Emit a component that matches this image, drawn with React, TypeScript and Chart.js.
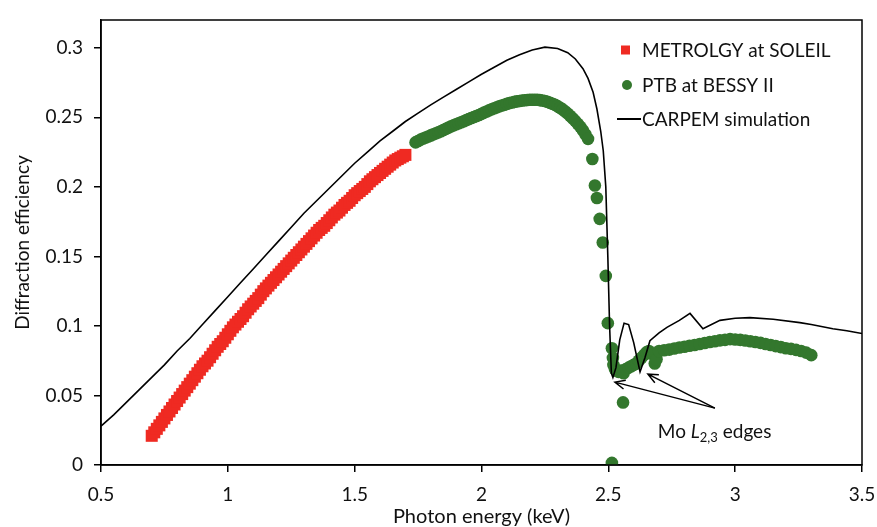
import React, { useEffect, useRef } from 'react';
import { Chart, registerables } from 'chart.js';

Chart.register(...registerables);

// ---------- data ----------
const metrologyX = [0.70, 0.71, 0.72, 0.73, 0.74, 0.75, 0.76, 0.77, 0.78, 0.79, 0.80, 0.81, 0.82, 0.83, 0.84, 0.85, 0.86, 0.87, 0.88, 0.89, 0.90, 0.91, 0.92, 0.93, 0.94, 0.95, 0.96, 0.97, 0.98, 0.99, 1.00, 1.01, 1.02, 1.03, 1.04, 1.05, 1.06, 1.07, 1.08, 1.09, 1.10, 1.11, 1.12, 1.13, 1.14, 1.15, 1.16, 1.17, 1.18, 1.19, 1.20, 1.21, 1.22, 1.23, 1.24, 1.25, 1.26, 1.27, 1.28, 1.29, 1.30, 1.31, 1.32, 1.33, 1.34, 1.35, 1.36, 1.37, 1.38, 1.39, 1.40, 1.41, 1.42, 1.43, 1.44, 1.45, 1.46, 1.47, 1.48, 1.49, 1.50, 1.51, 1.52, 1.53, 1.54, 1.55, 1.56, 1.57, 1.58, 1.59, 1.60, 1.61, 1.62, 1.63, 1.64, 1.65, 1.66, 1.67, 1.68, 1.69, 1.70];
const metrologyY = [0.021, 0.0235, 0.026, 0.0285, 0.031, 0.0335, 0.036, 0.0385, 0.041, 0.0435, 0.046, 0.0485, 0.051, 0.0535, 0.056, 0.0585, 0.061, 0.0635, 0.066, 0.0685, 0.071, 0.073, 0.075, 0.0775, 0.080, 0.0825, 0.085, 0.087, 0.089, 0.0915, 0.094, 0.0965, 0.099, 0.101, 0.103, 0.105, 0.107, 0.1095, 0.112, 0.114, 0.116, 0.118, 0.120, 0.1225, 0.125, 0.127, 0.129, 0.131, 0.133, 0.135, 0.137, 0.139, 0.141, 0.143, 0.145, 0.147, 0.149, 0.151, 0.153, 0.155, 0.157, 0.159, 0.161, 0.163, 0.165, 0.167, 0.169, 0.1705, 0.172, 0.174, 0.176, 0.178, 0.180, 0.1815, 0.183, 0.185, 0.187, 0.1885, 0.190, 0.192, 0.194, 0.1955, 0.197, 0.1985, 0.200, 0.202, 0.204, 0.2055, 0.207, 0.2085, 0.210, 0.2115, 0.213, 0.2145, 0.216, 0.2175, 0.219, 0.220, 0.221, 0.222, 0.223];

const ptbX = [1.74, 1.75, 1.76, 1.77, 1.78, 1.79, 1.80, 1.81, 1.82, 1.83, 1.84, 1.85, 1.86, 1.87, 1.88, 1.89, 1.90, 1.91, 1.92, 1.93, 1.94, 1.95, 1.96, 1.97, 1.98, 1.99, 2.00, 2.01, 2.02, 2.03, 2.04, 2.05, 2.06, 2.07, 2.08, 2.09, 2.10, 2.11, 2.12, 2.13, 2.14, 2.15, 2.16, 2.17, 2.18, 2.19, 2.20, 2.21, 2.22, 2.23, 2.24, 2.25, 2.26, 2.27, 2.28, 2.29, 2.30, 2.31, 2.32, 2.33, 2.34, 2.35, 2.36, 2.37, 2.38, 2.39, 2.40, 2.41, 2.42,
  2.437, 2.447, 2.455, 2.466, 2.478, 2.490, 2.498, 2.514, 2.518, 2.526, 2.514, 2.558,
  2.52, 2.53, 2.54, 2.55, 2.56, 2.57, 2.58, 2.59, 2.60, 2.61, 2.62, 2.63, 2.64, 2.65, 2.66, 2.67, 2.683, 2.69,
  2.70, 2.72, 2.74, 2.76, 2.78, 2.80, 2.82, 2.84, 2.86, 2.88, 2.90, 2.92, 2.94, 2.96, 2.98, 3.00, 3.02, 3.04, 3.06, 3.08, 3.10, 3.12, 3.14, 3.16, 3.18, 3.20, 3.22, 3.24, 3.26, 3.28, 3.30];
const ptbY = [0.232, 0.233, 0.234, 0.2348, 0.2355, 0.2362, 0.237, 0.2378, 0.2385, 0.2392, 0.240, 0.2409, 0.2418, 0.2427, 0.2435, 0.2442, 0.245, 0.2457, 0.2465, 0.2472, 0.248, 0.2487, 0.2495, 0.2502, 0.251, 0.2517, 0.2525, 0.2534, 0.2542, 0.255, 0.2558, 0.2565, 0.2572, 0.2579, 0.2585, 0.2591, 0.2597, 0.2602, 0.2607, 0.2611, 0.2615, 0.2618, 0.2621, 0.2623, 0.2625, 0.2626, 0.2627, 0.2627, 0.2626, 0.2624, 0.2621, 0.2617, 0.2612, 0.2605, 0.2598, 0.259, 0.258, 0.2569, 0.2556, 0.2542, 0.2527, 0.251, 0.2492, 0.2473, 0.2452, 0.243, 0.2405, 0.2377, 0.2345,
  0.220, 0.201, 0.192, 0.177, 0.160, 0.136, 0.102, 0.084, 0.077, 0.069, 0.0015, 0.045,
  0.072, 0.068, 0.067, 0.068, 0.066, 0.069, 0.070, 0.071, 0.072, 0.073, 0.075, 0.077, 0.079, 0.081, 0.082, 0.080, 0.073, 0.076,
  0.082, 0.0825, 0.083, 0.0838, 0.0845, 0.085, 0.0857, 0.0863, 0.087, 0.0877, 0.0884, 0.089, 0.0896, 0.090, 0.0905, 0.0903, 0.090, 0.0895, 0.089, 0.0885, 0.0878, 0.087, 0.0863, 0.0855, 0.0848, 0.084, 0.0835, 0.0828, 0.082, 0.0808, 0.079];

const carpemX = [0.50, 0.55, 0.60, 0.65, 0.70, 0.75, 0.80, 0.85, 0.90, 0.95, 1.00, 1.05, 1.10, 1.15, 1.20, 1.25, 1.30, 1.35, 1.40, 1.45, 1.50, 1.55, 1.60, 1.65, 1.70, 1.75, 1.80, 1.85, 1.90, 1.95, 2.00, 2.05, 2.10, 2.15, 2.20, 2.25, 2.30, 2.34, 2.37, 2.40, 2.42, 2.44, 2.455, 2.47, 2.48, 2.49, 2.498, 2.505, 2.512, 2.518, 2.53, 2.545, 2.562, 2.58, 2.60, 2.613, 2.625, 2.644, 2.664, 2.70, 2.731, 2.78, 2.822, 2.873, 2.94, 3.00, 3.058, 3.15, 3.255, 3.30, 3.385, 3.44, 3.50];
const carpemY = [0.028, 0.036, 0.045, 0.054, 0.063, 0.072, 0.082, 0.091, 0.101, 0.111, 0.121, 0.131, 0.141, 0.151, 0.161, 0.171, 0.181, 0.190, 0.199, 0.208, 0.217, 0.225, 0.233, 0.240, 0.247, 0.253, 0.259, 0.2645, 0.270, 0.2755, 0.281, 0.286, 0.291, 0.295, 0.2985, 0.3005, 0.2995, 0.2965, 0.292, 0.285, 0.278, 0.268, 0.256, 0.240, 0.226, 0.200, 0.150, 0.100, 0.066, 0.063, 0.070, 0.090, 0.1020, 0.1010, 0.088, 0.077, 0.067, 0.077, 0.0894, 0.095, 0.099, 0.104, 0.109, 0.098, 0.104, 0.1055, 0.106, 0.1048, 0.1024, 0.101, 0.098, 0.0965, 0.0945];

const seriesNames = ['METROLGY at SOLEIL', 'PTB at BESSY II', 'CARPEM simulation'];
const xTitle = 'Photon energy (keV)';
const yTitle = 'Diffraction efficiency';

// annotation (data coordinates)
const noteParts = ['Mo ', 'L', '2,3', ' edges'];
const notePos = { x: 2.695, y: 0.0237 };
const arrowTail = { x: 2.92, y: 0.0409 };
const arrowHeads = [{ x: 2.526, y: 0.0596 }, { x: 2.656, y: 0.0653 }];

const RED = '#ef2a22';
const GREEN = '#33772d';
const FONT = 'Lato, "Open Sans", sans-serif';
const TEXT = '#111';

const framePlugin = {
  id: 'frame',
  afterDatasetsDraw(chart: any) {
    const { ctx, chartArea: a } = chart;
    ctx.save();
    ctx.strokeStyle = '#000';
    ctx.lineWidth = 1.5;
    ctx.strokeRect(a.left, a.top, a.right - a.left, a.bottom - a.top);
    ctx.restore();
  },
};

const annotationPlugin = {
  id: 'notes',
  afterDatasetsDraw(chart: any) {
    const { ctx, scales } = chart;
    const px = (p: any) => ({ x: scales.x.getPixelForValue(p.x), y: scales.y.getPixelForValue(p.y) });
    ctx.save();
    ctx.strokeStyle = '#000';
    ctx.lineWidth = 1.5;
    const t = px(arrowTail);
    arrowHeads.forEach((h0) => {
      const h = px(h0);
      ctx.beginPath();
      ctx.moveTo(t.x, t.y);
      ctx.lineTo(h.x, h.y);
      const ang = Math.atan2(t.y - h.y, t.x - h.x);
      const len = 11;
      const spread = 0.42;
      ctx.moveTo(h.x + len * Math.cos(ang + spread), h.y + len * Math.sin(ang + spread));
      ctx.lineTo(h.x, h.y);
      ctx.lineTo(h.x + len * Math.cos(ang - spread), h.y + len * Math.sin(ang - spread));
      ctx.stroke();
    });
    const p = px(notePos);
    ctx.fillStyle = TEXT;
    ctx.textBaseline = 'alphabetic';
    ctx.textAlign = 'left';
    let x = p.x;
    const base = p.y + 6;
    ctx.font = `19px ${FONT}`;
    ctx.fillText(noteParts[0], x, base);
    x += ctx.measureText(noteParts[0]).width;
    ctx.font = `italic 19px ${FONT}`;
    ctx.fillText(noteParts[1], x, base);
    x += ctx.measureText(noteParts[1]).width;
    ctx.font = `13px ${FONT}`;
    ctx.fillText(noteParts[2], x, base + 4);
    x += ctx.measureText(noteParts[2]).width;
    ctx.font = `19px ${FONT}`;
    ctx.fillText(noteParts[3], x, base);
    ctx.restore();
  },
};

const legendPlugin = {
  id: 'customLegend',
  afterDraw(chart: any) {
    const { ctx, chartArea: a } = chart;
    ctx.save();
    const textX = a.right - 220;
    const rows = [a.top + 30, a.top + 65, a.top + 99];
    ctx.font = `19px ${FONT}`;
    ctx.textBaseline = 'middle';
    ctx.textAlign = 'left';
    seriesNames.forEach((name, i) => {
      const y = rows[i];
      if (i === 0) {
        ctx.fillStyle = RED;
        ctx.fillRect(textX - 21, y - 4.5, 9, 9);
      } else if (i === 1) {
        ctx.fillStyle = GREEN;
        ctx.beginPath();
        ctx.arc(textX - 15, y, 5, 0, Math.PI * 2);
        ctx.fill();
      } else {
        ctx.strokeStyle = '#000';
        ctx.lineWidth = 2;
        ctx.beginPath();
        ctx.moveTo(textX - 25, y);
        ctx.lineTo(textX - 1, y);
        ctx.stroke();
      }
      ctx.fillStyle = TEXT;
      ctx.fillText(name, textX, y + 1);
    });
    ctx.restore();
  },
};

export default function App() {
  const canvasRef = useRef<HTMLCanvasElement | null>(null);

  useEffect(() => {
    document.body.style.margin = '0';
    const canvas = canvasRef.current;
    if (!canvas) return;
    const toPts = (xs: number[], ys: number[]) => xs.map((x, i) => ({ x, y: ys[i] }));
    const chart = new Chart(canvas, {
      type: 'scatter',
      data: {
        datasets: [
          {
            label: seriesNames[2],
            data: toPts(carpemX, carpemY),
            showLine: true,
            borderColor: '#000',
            borderWidth: 1.6,
            pointRadius: 0,
            tension: 0,
          },
          {
            label: seriesNames[1],
            data: toPts(ptbX, ptbY),
            pointStyle: 'circle',
            pointRadius: 6.3,
            borderWidth: 0,
            backgroundColor: GREEN,
          },
          {
            label: seriesNames[0],
            data: toPts(metrologyX, metrologyY),
            pointStyle: 'rect',
            pointRadius: 8.5,
            borderWidth: 0,
            backgroundColor: RED,
          },
        ],
      },
      options: {
        responsive: false,
        animation: false,
        devicePixelRatio: 1,
        layout: { padding: { top: 20, right: 15, left: 0, bottom: 0 } },
        plugins: { legend: { display: false }, tooltip: { enabled: false } },
        scales: {
          x: {
            type: 'linear',
            min: 0.5,
            max: 3.5,
            afterFit: (s: any) => { s.height = 62; s.paddingLeft = 0; s.paddingRight = 0; },
            ticks: {
              stepSize: 0.5,
              color: TEXT,
              padding: 11,
              font: { family: FONT, size: 19 },
              callback: (v: any) => String(+Number(v).toFixed(2)),
            },
            grid: { drawOnChartArea: false, drawTicks: true, tickLength: 7, color: '#000', lineWidth: 1.5 },
            border: { color: '#000', width: 1.5 },
            title: {
              display: true,
              text: xTitle,
              color: TEXT,
              font: { family: FONT, size: 20, lineHeight: 1 },
              padding: 0,
            },
          },
          y: {
            type: 'linear',
            min: 0,
            max: 0.32,
            afterFit: (s: any) => { s.width = 101; s.paddingTop = 0; s.paddingBottom = 0; },
            ticks: {
              stepSize: 0.05,
              includeBounds: false,
              color: TEXT,
              padding: 11,
              font: { family: FONT, size: 19 },
              callback: (v: any) => String(+Number(v).toFixed(2)),
            },
            grid: { drawOnChartArea: false, drawTicks: true, tickLength: 7, color: '#000', lineWidth: 1.5 },
            border: { color: '#000', width: 1.5 },
            title: {
              display: true,
              text: yTitle,
              color: TEXT,
              font: { family: FONT, size: 19, lineHeight: 1.2 },
              padding: { top: 11, bottom: 0 },
            },
          },
        },
      },
      plugins: [framePlugin, annotationPlugin, legendPlugin],
    } as any);
    return () => chart.destroy();
  }, []);

  return (
    <div style={{ width: 877, height: 527, overflow: 'hidden', background: '#fff' }}>
      <canvas ref={canvasRef} width={877} height={527} style={{ display: 'block' }} />
    </div>
  );
}
